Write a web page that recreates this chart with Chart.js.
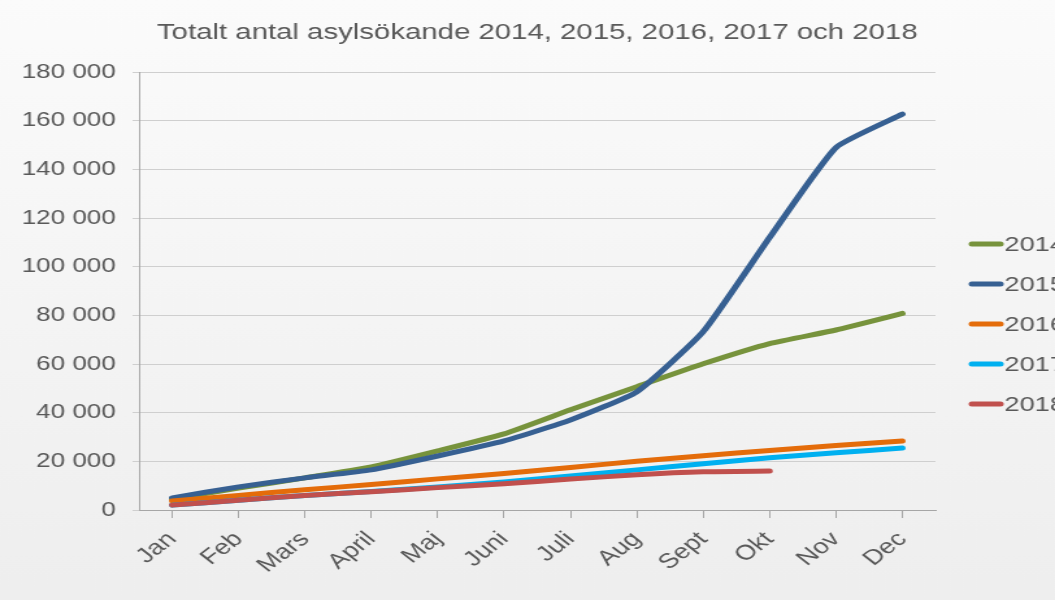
<!DOCTYPE html>
<html>
<head>
<meta charset="utf-8">
<script src="https://cdn.jsdelivr.net/npm/chart.js@4"></script>
<style>
  html, body { margin: 0; padding: 0; overflow: hidden; background: #f4f4f4; }
  #wrap { width: 1055px; height: 600px; overflow: hidden; }
  /* originalbilden är en utdragen bild (4:3 -> 16:9), så duken dras ut på samma sätt */
  #chart { transform: scaleX(1.2993); transform-origin: 0 0; }
</style>
</head>
<body>
<div id="wrap"><canvas id="chart" width="812" height="600"></canvas></div>
<script>
const months = ['Jan', 'Feb', 'Mars', 'April', 'Maj', 'Juni', 'Juli', 'Aug', 'Sept', 'Okt', 'Nov', 'Dec']
const years = ['2014', '2015', '2016', '2017', '2018']
const colors = ['#77933c', '#376092', '#e46c0a', '#00b0f0', '#c0504d']

const y2014 = [4500, 9000, 13200, 17700, 24300, 31300, 41200, 50700, 60100, 68400, 74000, 80800]
const y2015 = [5000, 9500, 13200, 16500, 22200, 28400, 37000, 48600, 73300, 112000, 149000, 162700]
const y2016 = [3700, 6000, 8300, 10500, 12800, 15000, 17500, 20000, 22300, 24500, 26500, 28400]
const y2017 = [2000, 4000, 6000, 7600, 9500, 11500, 14000, 16500, 19000, 21500, 23500, 25500]
const y2018 = [2000, 4000, 6000, 7500, 9200, 10800, 12700, 14500, 15700, 16000]
const series = [y2014, y2015, y2016, y2017, y2018]

const font = "'Liberation Sans', Arial, sans-serif"
const textColor = '#595959'

// bakgrund med svag gradient
const bg = {
  id: 'bg',
  beforeDraw(chart) {
    const c = chart.ctx
    const g = c.createLinearGradient(0, 0, 0, chart.height)
    g.addColorStop(0, '#fbfbfb')
    g.addColorStop(1, '#eeeeee')
    c.save()
    c.fillStyle = g
    c.fillRect(0, 0, chart.width, chart.height)
    c.restore()
  }
}

// legend till höger, klipps av vid kanten som i originalet
const sideLegend = {
  id: 'sideLegend',
  afterDraw(chart) {
    const c = chart.ctx
    c.save()
    c.font = '21px ' + font
    c.textBaseline = 'middle'
    chart.data.datasets.forEach((ds, i) => {
      const y = 244 + i * 40
      c.strokeStyle = ds.borderColor
      c.lineWidth = 5
      c.lineCap = 'round'
      c.beginPath()
      c.moveTo(748, y)
      c.lineTo(770, y)
      c.stroke()
      c.fillStyle = textColor
      c.fillText(ds.label, 773, y + 1)
    })
    c.restore()
  }
}

new Chart(document.getElementById('chart'), {
  type: 'line',
  data: {
    labels: months,
    datasets: years.map((yr, i) => ({
      label: yr,
      data: series[i],
      borderColor: colors[i],
      backgroundColor: colors[i],
      borderWidth: 5,
      borderCapStyle: 'round',
      borderJoinStyle: 'round',
      pointRadius: 0,
      tension: 0.15,
      order: years.length - i
    }))
  },
  options: {
    responsive: false,
    animation: false,
    layout: { padding: { left: 0, right: 92, top: 0, bottom: 0 } },
    plugins: {
      legend: { display: false },
      tooltip: { enabled: false },
      title: {
        display: true,
        fullSize: false,
        text: 'Totalt antal asylsökande 2014, 2015, 2016, 2017 och 2018',
        color: textColor,
        font: { family: font, size: 22.6, weight: 'normal' },
        padding: { top: 19, bottom: 26 }
      }
    },
    scales: {
      x: {
        offset: true,
        grid: { display: true, drawOnChartArea: false, color: '#a6a6a6', tickLength: 8 },
        border: { color: '#a6a6a6' },
        ticks: {
          color: textColor,
          font: { family: font, size: 21 },
          minRotation: 45,
          maxRotation: 45,
          padding: 9
        },
        afterFit(scale) { scale.height = 90 }
      },
      y: {
        min: 0,
        max: 180000,
        grid: { color: '#cfcfcf', tickLength: 5 },
        border: { color: '#a6a6a6' },
        ticks: {
          stepSize: 20000,
          color: textColor,
          font: { family: font, size: 20 },
          padding: 13,
          callback: v => String(v).replace(/\B(?=(\d{3})+(?!\d))/g, ' ')
        },
        afterFit(scale) { scale.width = 107 }
      }
    }
  },
  plugins: [bg, sideLegend]
})
</script>
</body>
</html>
